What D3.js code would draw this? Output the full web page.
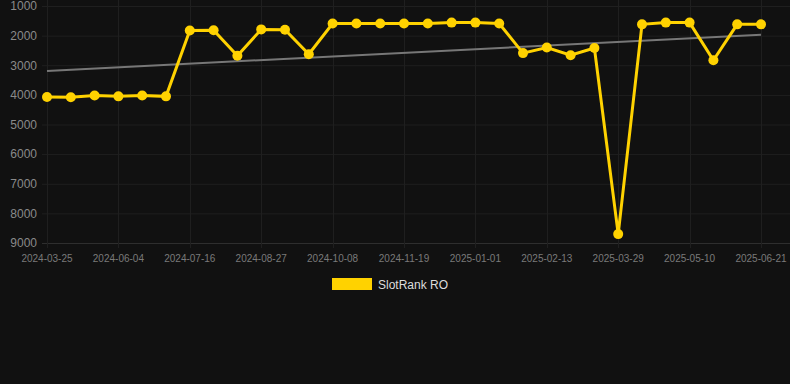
<!DOCTYPE html>
<html>
<head>
<meta charset="utf-8">
<script src="https://cdn.jsdelivr.net/npm/d3@7"></script>
<style>
  html, body { margin: 0; padding: 0; background: #111111; }
  svg { display: block; font-family: Arial, "Liberation Sans", sans-serif; }
</style>
</head>
<body>
<div id="chart"></div>
<script>
const dates = [
  '2024-03-25', '2024-05-07', '2024-05-21', '2024-06-04', '2024-06-18', '2024-07-02',
  '2024-07-16', '2024-07-30', '2024-08-13', '2024-08-27', '2024-09-10', '2024-09-24',
  '2024-10-08', '2024-10-22', '2024-11-05', '2024-11-19', '2024-12-03', '2024-12-17',
  '2025-01-01', '2025-01-15', '2025-01-30', '2025-02-13', '2025-02-27', '2025-03-14',
  '2025-03-29', '2025-04-12', '2025-04-26', '2025-05-10', '2025-05-24', '2025-06-07',
  '2025-06-21'
]
const ranks = [
  4070, 4080, 4020, 4050, 4020, 4050,
  1830, 1820, 2680, 1790, 1800, 2630,
  1590, 1590, 1590, 1590, 1590, 1560,
  1560, 1590, 2590, 2400, 2660, 2420,
  8700, 1620, 1560, 1560, 2830, 1620,
  1620
]
// trend line end values (first and last date)
const trend = [3190, 1970]
const yTicks = [1000, 2000, 3000, 4000, 5000, 6000, 7000, 8000, 9000]
const seriesName = 'SlotRank RO'

const width = 790
const height = 384
const gold = '#ffd200'

const svg = d3.select('#chart').append('svg').attr('width', width).attr('height', height)
svg.append('rect').attr('width', width).attr('height', height).attr('fill', '#111111')

const x = d3.scalePoint().domain(dates).range([47, 761])
const y = d3.scaleLinear().domain([1000, 9000]).range([6, 243])

// grid
const grid = svg.append('g')
grid.selectAll('line.h')
  .data(yTicks)
  .enter()
  .append('line')
  .attr('x1', 42).attr('x2', width)
  .attr('y1', (d) => y(d) + 0.5).attr('y2', (d) => y(d) + 0.5)
  .attr('stroke', (d) => d === 9000 ? '#2e2e2e' : '#1f1f1f')
  .attr('stroke-width', 1)

const labelDates = dates.filter((d, i) => i % 3 === 0)
grid.selectAll('line.v')
  .data(labelDates)
  .enter()
  .append('line')
  .attr('x1', (d) => Math.round(x(d)) + 0.5).attr('x2', (d) => Math.round(x(d)) + 0.5)
  .attr('y1', 0).attr('y2', 248)
  .attr('stroke', '#1f1f1f')

// y axis labels
svg.append('g')
  .selectAll('text')
  .data(yTicks)
  .enter()
  .append('text')
  .attr('x', 37)
  .attr('y', (d) => y(d))
  .attr('dy', '0.36em')
  .attr('text-anchor', 'end')
  .attr('font-size', '12px')
  .attr('fill', '#8a8a8a')
  .text((d) => d)

// x axis labels
svg.append('g')
  .selectAll('text')
  .data(labelDates)
  .enter()
  .append('text')
  .attr('x', (d) => x(d))
  .attr('y', 262)
  .attr('text-anchor', 'middle')
  .attr('font-size', '10px')
  .attr('fill', '#7a7a7a')
  .text((d) => d)

// trend line
svg.append('line')
  .attr('x1', x(dates[0])).attr('y1', y(trend[0]))
  .attr('x2', x(dates[dates.length - 1])).attr('y2', y(trend[1]))
  .attr('stroke', '#777777')
  .attr('stroke-width', 2)

// series
const line = d3.line().x((d, i) => x(dates[i])).y((d) => y(d))
svg.append('path')
  .datum(ranks)
  .attr('d', line)
  .attr('fill', 'none')
  .attr('stroke', gold)
  .attr('stroke-width', 3)
  .attr('stroke-linejoin', 'miter')

svg.append('g')
  .selectAll('circle')
  .data(ranks)
  .enter()
  .append('circle')
  .attr('cx', (d, i) => x(dates[i]))
  .attr('cy', (d) => y(d))
  .attr('r', 5)
  .attr('fill', gold)

// legend
const legend = svg.append('g')
legend.append('rect')
  .attr('x', 332).attr('y', 278)
  .attr('width', 40).attr('height', 12)
  .attr('fill', gold)
legend.append('text')
  .attr('x', 378).attr('y', 288.5)
  .attr('font-size', '12px')
  .attr('fill', '#dddddd')
  .text(seriesName)
</script>
</body>
</html>
